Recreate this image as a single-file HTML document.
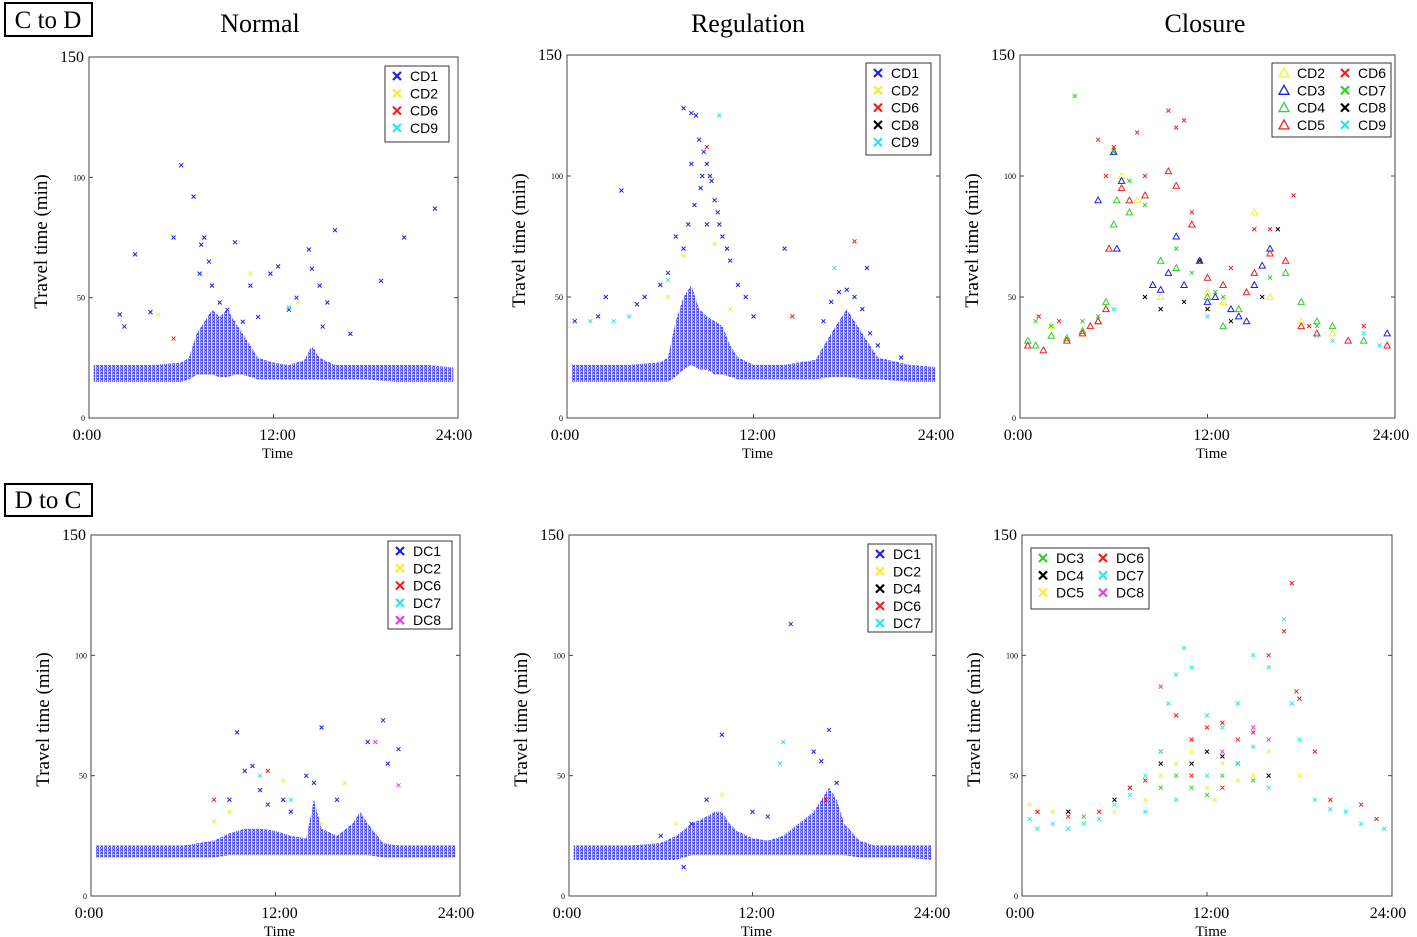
<!DOCTYPE html>
<html><head><meta charset="utf-8"><style>
html,body{margin:0;padding:0;background:#fff;}
svg{display:block;font-family:"Liberation Serif",serif;}
</style></head><body>
<svg id="chart" width="1417" height="937" viewBox="0 0 1417 937" xmlns="http://www.w3.org/2000/svg">
<defs>
<pattern id="xpat" width="4" height="3.2" patternUnits="userSpaceOnUse">
<path d="M0.3,0.3 L3.1,2.9 M3.1,0.3 L0.3,2.9" stroke="#1f1fe8" stroke-width="0.9"/>
</pattern>
</defs>
<rect x="5" y="3" width="87" height="33" fill="none" stroke="#000" stroke-width="2"/>
<text x="48" y="28" font-size="25" text-anchor="middle">C to D</text>
<rect x="5" y="484" width="87" height="32" fill="none" stroke="#000" stroke-width="2"/>
<text x="48" y="508" font-size="25" text-anchor="middle">D to C</text>
<text x="260" y="32" font-size="26" text-anchor="middle">Normal</text>
<text x="748" y="32" font-size="26" text-anchor="middle">Regulation</text>
<text x="1205" y="32" font-size="26" text-anchor="middle">Closure</text>
</svg>
<script>
// ---------- data ----------
const xTickLabels = ["0:00","12:00","24:00"];
const xTickValues = [0,12,24];
const yTickValues = [0,50,100,150];
const yTickLabels = ["0","50","100","150"];

// Panel A: Normal C to D
const aBandT  = [0.3,2,4,6,6.5,7,7.5,8,8.5,9,9.5,10,10.5,11,12,13,14,14.5,15,16,18,20,22,23.7];
const aBandLo = [15,15,15,15,16,18,18,18,17,17,18,18,17,16,16,16,16,16,16,16,16,15,15,15];
const aBandHi = [22,22,22,23,25,35,40,45,42,45,40,35,30,25,23,22,24,30,25,22,22,22,22,21];
const aCD1 = [[2,43],[2.3,38],[3,68],[4,44],[6,105],[5.5,75],[6.8,92],[7.3,72],[7.5,75],[7.8,65],[7.2,60],[8,55],[9.5,73],[10.5,55],[11,42],[11.8,60],[12.3,63],[13.5,50],[14.3,70],[14.5,62],[15,55],[15.5,48],[15.2,38],[16,78],[17,35],[19,57],[20.5,75],[22.5,87],[9,45],[8.5,48],[10,40],[13,45]];
const aCD2 = [[4.5,43],[13.6,48],[10.5,60]];
const aCD6 = [[5.5,33]];
const aCD9 = [[13,46]];

// Panel B: Regulation C to D
const bBandT  = [0.3,2,4,6,6.5,7,7.5,8,8.5,9,9.5,10,10.5,11,12,14,16,17,18,19,20,22,23.7];
const bBandLo = [15,15,15,15,15,17,20,22,20,20,18,18,17,16,16,16,16,17,17,16,16,15,15];
const bBandHi = [22,22,22,23,25,40,50,55,45,42,40,38,30,25,22,22,24,35,45,35,25,22,21];
const bCD1 = [[7.5,128],[8,126],[8.3,125],[8.5,115],[8.8,110],[9,105],[9.2,100],[9.5,90],[9.7,85],[8.6,95],[8.2,88],[7.8,80],[7.5,70],[7,75],[6.5,60],[9.8,80],[10.3,70],[10.5,65],[11,55],[11.5,50],[12,42],[9,80],[8,105],[8.7,100],[3.5,94],[2.5,50],[0.5,40],[2,42],[5,50],[6,55],[14,70],[16.5,40],[17,48],[17.5,52],[18,53],[18.5,50],[19,45],[19.5,35],[20,30],[19.3,62],[21.5,25],[4.5,47],[9.3,98],[10,75]];
const bCD2 = [[7.5,67],[9.5,72],[6.5,50],[10.5,45]];
const bCD6 = [[9,112],[14.5,42],[18.5,73]];
const bCD8 = [];
const bCD9 = [[1.5,40],[3,40],[4,42],[9.8,125],[6.5,57],[17.2,62]];

// Panel C: Closure C to D
const cCD2 = [[2,38],[4,35],[6.5,100],[7.5,90],[9,50],[12,52],[13,48],[14,45],[15,85],[16,50],[18,40],[20,35]];
const cCD3 = [[5,90],[6,110],[6.5,98],[6.2,70],[8.5,55],[9,53],[9.5,60],[10,75],[10.5,55],[11.5,65],[12.5,50],[13.5,45],[14,42],[14.5,40],[15,55],[15.5,63],[16,70],[12,48],[23.5,35]];
const cCD4 = [[0.5,32],[1,30],[2,34],[3,33],[4,36],[5,40],[5.5,48],[6,80],[6.2,90],[7,85],[9,65],[10,62],[12,50],[13,38],[14,45],[17,60],[18,48],[19,40],[20,38],[22,32]];
const cCD5 = [[0.5,30],[1.5,28],[3,32],[4,35],[4.5,38],[5,40],[5.5,45],[5.7,70],[6.5,95],[7,90],[8,92],[9.5,102],[10,96],[11,80],[12,58],[13,55],[14.5,52],[15,60],[16,68],[17,65],[18,38],[19,35],[21,32],[23.5,30]];
const cCD6 = [[1.2,42],[5,115],[5.5,100],[6,112],[7.5,118],[9.5,127],[10,120],[10.5,123],[8,100],[11,85],[13.5,62],[15,78],[16,78],[17.5,92],[18.5,38],[22,38],[2.5,40]];
const cCD7 = [[3.5,133],[1,40],[2,38],[4,40],[5,42],[6,110],[7,98],[8,88],[10,70],[11,60],[12.5,52],[13,50],[16,58],[19,38]];
const cCD8 = [[8,50],[10.5,48],[11.5,65],[12,45],[13.5,40],[15.5,50],[16.5,78],[9,45]];
const cCD9 = [[22,35],[23,30],[20,32],[19,34],[12,42],[6,45]];

// Panel D: Normal D to C
const dBandT  = [0.3,2,4,6,8,9,10,11,12,13,14,14.5,15,16,17,17.5,18,19,20,22,23.7];
const dBandLo = [16,16,16,16,16,17,17,17,17,17,17,17,17,17,17,17,17,16,16,16,16];
const dBandHi = [21,21,21,21,23,26,28,28,27,25,24,40,28,25,30,35,30,22,21,21,21];
const dDC1 = [[9.5,68],[10,52],[10.5,54],[11,44],[12.5,40],[14,50],[14.5,47],[15,70],[16,40],[18,64],[19,73],[19.3,55],[20,61],[9,40],[11.5,38],[13,35]];
const dDC2 = [[8,31],[9,35],[12.5,48],[15,30],[16.5,47]];
const dDC6 = [[8,40],[11.5,52]];
const dDC7 = [[11,50],[13,40]];
const dDC8 = [[18.5,64],[20,46]];

// Panel E: Regulation D to C
const eBandT  = [0.3,2,4,6,7,8,9,9.5,10,10.5,11,12,13,14,15,16,16.5,17,17.5,18,19,20,22,23.7];
const eBandLo = [15,15,15,15,15,17,17,17,17,17,17,17,17,17,17,17,17,17,17,17,16,16,16,15];
const eBandHi = [21,21,21,22,25,30,33,35,35,30,27,24,23,25,30,35,40,45,40,30,23,21,21,21];
const eDC1 = [[14.5,113],[10,67],[17,69],[16,60],[16.5,56],[17.5,47],[9,40],[8,30],[12,35],[13,33],[7.5,12],[6,25]];
const eDC2 = [[10,42],[7,30]];
const eDC4 = [];
const eDC6 = [[16.8,40]];
const eDC7 = [[14,64],[13.8,55]];

// Panel F: Closure D to C
const fDC3 = [[1,35],[4,33],[9,45],[10,50],[11,45],[12,42],[13,50],[15,48]];
const fDC4 = [[3,35],[6,40],[7,45],[9,55],[11,55],[12,60],[13,58],[14,55],[16,50]];
const fDC5 = [[0.5,38],[2,35],[6,35],[8,40],[9,50],[10,55],[11,60],[12,45],[13,55],[14,48],[15,50],[16,60],[18,50],[12.5,40]];
const fDC6 = [[1,35],[3,33],[5,35],[7,45],[8,48],[9,60],[10,75],[11,65],[12,70],[13,72],[14,65],[15,68],[16,100],[17,110],[17.5,130],[17.8,85],[18,82],[19,60],[20,40],[22,38],[23,32],[11,50],[13,45]];
const fDC7 = [[0.5,32],[1,28],[2,30],[3,28],[4,30],[5,32],[6,38],[7,42],[8,50],[9,60],[9.5,80],[10,92],[10.5,103],[11,95],[12,75],[13,70],[14,80],[15,100],[16,95],[17,115],[17.5,80],[18,65],[19,40],[20,36],[21,35],[22,30],[23.5,28],[10,40],[12,50],[14,55],[16,45],[8,35],[15,62]];
const fDC8 = [[9,87],[13,60],[15,70],[16,65]];

// ---------- rendering ----------
const NS = "http://www.w3.org/2000/svg";
const svg = document.getElementById('chart');
const COL = {blue:"#1f1fe8",yellow:"#f2ee3a",red:"#f02020",cyan:"#2ee6e6",black:"#000",green:"#2ed02e",magenta:"#e040e0"};
function mk(tag, attrs, parent){
  const e = document.createElementNS(NS, tag);
  for (const k in attrs) e.setAttribute(k, attrs[k]);
  (parent||svg).appendChild(e);
  return e;
}
function xMark(g, cx, cy, s, col, w){
  return mk('path',{d:`M${cx-s},${cy-s}L${cx+s},${cy+s}M${cx+s},${cy-s}L${cx-s},${cy+s}`,stroke:col,'stroke-width':w,fill:'none'},g);
}
function triMark(g, cx, cy, s, col, w){
  return mk('path',{d:`M${cx},${cy-s}L${cx+s},${cy+s*0.8}L${cx-s},${cy+s*0.8}Z`,stroke:col,'stroke-width':w,fill:'none'},g);
}
function panel(p){
  const g = mk('g',{});
  
  
  const X = t => p.x0 + (p.x1-p.x0)*t/24;
  const Y = v => p.y1 - (p.y1-p.y0)*v/150;
  const fr = mk('rect',{x:p.x0,y:p.y0,width:p.x1-p.x0,height:p.y1-p.y0,fill:'none',stroke:'#444','stroke-width':1},g);
  
  
  yTickValues.forEach((v,i)=>{
    mk('line',{x1:p.x0,x2:p.x0+4,y1:Y(v),y2:Y(v),stroke:'#444'},g);
    mk('line',{x1:p.x1,x2:p.x1-4,y1:Y(v),y2:Y(v),stroke:'#444'},g);
    const big = v===150;
    const t = mk('text',{x:p.x0-(big?5:4),y:Y(v)+(big?5:3),'font-size':big?16:8,'text-anchor':'end'},g);
    t.textContent = yTickLabels[i];
    
    
  });
  xTickValues.forEach((v,i)=>{
    mk('line',{x1:X(v),x2:X(v),y1:p.y1,y2:p.y1-4,stroke:'#444'},g);
    const t = mk('text',{x:X(v)+(i===2?-4:(i===0?-2:4)),y:p.y1+22,'font-size':16,'text-anchor':'middle'},g);
    t.textContent = xTickLabels[i];
    
    
  });
  const xt = mk('text',{x:(p.x0+p.x1)/2+4,y:p.y1+40,'font-size':15,'text-anchor':'middle'},g);
  xt.textContent = 'Time';
  
  
  const yx = p.x0-42, yy = (p.y0+p.y1)/2+4;
  const yt = mk('text',{x:yx,y:yy,'font-size':19,'text-anchor':'middle',transform:`rotate(-90 ${yx} ${yy})`},g);
  yt.textContent = 'Travel time (min)';
  
  
  if (p.band){
    const [T,L,H] = p.band;
    let d = T.map((t,i)=>`${i?'L':'M'}${X(t)},${Y(H[i])}`).join('');
    for (let i=T.length-1;i>=0;i--) d += `L${X(T[i])},${Y(L[i])}`;
    const b = mk('path',{d:d+'Z',fill:'url(#xpat)',stroke:'none'},g);
    
    
  }
  p.series.forEach(s=>{
    const sg = mk('g',{},g);
    
    
    s.data.forEach(([t,v])=>{
      const m = s.shape==='tri' ? triMark(sg,X(t),Y(v),3.2,COL[s.color],1) : xMark(sg,X(t),Y(v),2,COL[s.color],1);
      
      
    });
  });
  // legend
  const L = p.legend;
  const colW = L.colW || 0;
  const lg = mk('g',{},g);
  
  
  mk('rect',{x:L.x,y:L.y,width:L.w,height:L.h,fill:'#fff',stroke:'#333','stroke-width':1},lg);
  const rows = Math.ceil(p.series.length/L.cols);
  p.series.forEach((s,i)=>{
    const c = Math.floor(i/rows), r = i%rows;
    const cx = L.x+12+c*colW, cy = L.y+10+r*17.3;
    const e = mk('g',{},lg);
    
    
    if (s.shape==='tri') triMark(e,cx,cy,5,COL[s.color],1.3); else xMark(e,cx,cy,4,COL[s.color],2.2);
    const t = mk('text',{x:cx+13,y:cy+5,'font-size':14,'font-family':'Liberation Sans, sans-serif'},e);
    t.textContent = s.label;
  });
}
panel({name:'normal-c-to-d-panel',x0:89,x1:458,y0:57,y1:418,band:[aBandT,aBandLo,aBandHi],
  series:[{label:'CD1',color:'blue',data:aCD1},{label:'CD2',color:'yellow',data:aCD2},{label:'CD6',color:'red',data:aCD6},{label:'CD9',color:'cyan',data:aCD9}],
  legend:{x:385,y:66,w:64,h:76,cols:1}});
panel({name:'regulation-c-to-d-panel',x0:567,x1:940,y0:55,y1:418,band:[bBandT,bBandLo,bBandHi],
  series:[{label:'CD1',color:'blue',data:bCD1},{label:'CD2',color:'yellow',data:bCD2},{label:'CD6',color:'red',data:bCD6},{label:'CD8',color:'black',data:bCD8},{label:'CD9',color:'cyan',data:bCD9}],
  legend:{x:866,y:63,w:65,h:92,cols:1}});
panel({name:'closure-c-to-d-panel',x0:1020,x1:1395,y0:55,y1:418,
  series:[{label:'CD2',color:'yellow',shape:'tri',data:cCD2},{label:'CD3',color:'blue',shape:'tri',data:cCD3},{label:'CD4',color:'green',shape:'tri',data:cCD4},{label:'CD5',color:'red',shape:'tri',data:cCD5},
          {label:'CD6',color:'red',data:cCD6},{label:'CD7',color:'green',data:cCD7},{label:'CD8',color:'black',data:cCD8},{label:'CD9',color:'cyan',data:cCD9}],
  legend:{x:1272,y:63,w:119,h:74,cols:2,colW:61}});
panel({name:'normal-d-to-c-panel',x0:91,x1:460,y0:535,y1:896,band:[dBandT,dBandLo,dBandHi],
  series:[{label:'DC1',color:'blue',data:dDC1},{label:'DC2',color:'yellow',data:dDC2},{label:'DC6',color:'red',data:dDC6},{label:'DC7',color:'cyan',data:dDC7},{label:'DC8',color:'magenta',data:dDC8}],
  legend:{x:388,y:541,w:64,h:88,cols:1}});
panel({name:'regulation-d-to-c-panel',x0:569,x1:936,y0:535,y1:896,band:[eBandT,eBandLo,eBandHi],
  series:[{label:'DC1',color:'blue',data:eDC1},{label:'DC2',color:'yellow',data:eDC2},{label:'DC4',color:'black',data:eDC4},{label:'DC6',color:'red',data:eDC6},{label:'DC7',color:'cyan',data:eDC7}],
  legend:{x:868,y:544,w:64,h:88,cols:1}});
panel({name:'closure-d-to-c-panel',x0:1022,x1:1392,y0:535,y1:896,
  series:[{label:'DC3',color:'green',data:fDC3},{label:'DC4',color:'black',data:fDC4},{label:'DC5',color:'yellow',data:fDC5},
          {label:'DC6',color:'red',data:fDC6},{label:'DC7',color:'cyan',data:fDC7},{label:'DC8',color:'magenta',data:fDC8}],
  legend:{x:1031,y:548,w:118,h:61,cols:2,colW:60}});
</script>
</body></html>
